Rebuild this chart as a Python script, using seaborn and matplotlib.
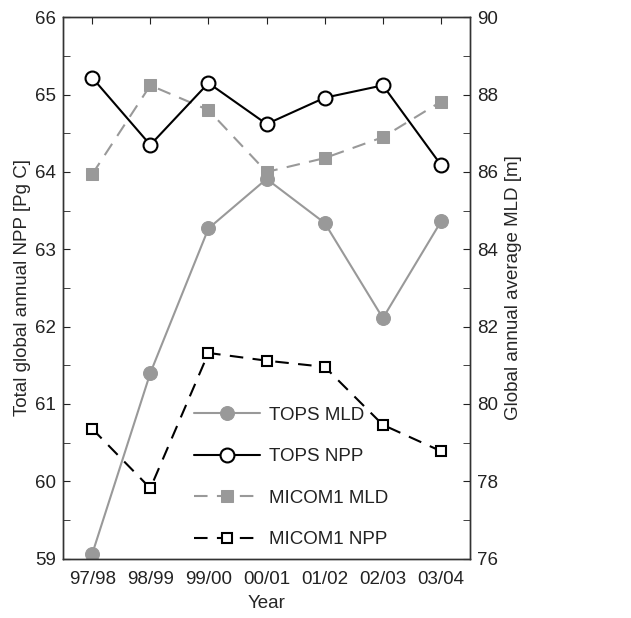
import matplotlib
matplotlib.use("Agg")
import matplotlib.pyplot as plt
import seaborn as sns
import pandas as pd
from matplotlib.ticker import MultipleLocator

years = ["97/98", "98/99", "99/00", "00/01", "01/02", "02/03", "03/04"]
tops_mld = [76.12, 80.80, 84.54, 85.82, 84.68, 82.22, 84.72]
tops_npp = [65.22, 64.35, 65.15, 64.62, 64.96, 65.12, 64.09]
micom_mld = [85.94, 88.24, 87.60, 86.00, 86.36, 86.90, 87.82]
micom_npp = [60.68, 59.91, 61.66, 61.56, 61.48, 60.73, 60.39]

sns.set_style("white")
plt.rcParams['font.family'] = ['Liberation Sans', 'DejaVu Sans']
FS = 13.5

df = pd.DataFrame({"year": years, "pos": range(len(years)),
                   "tops_mld": tops_mld, "tops_npp": tops_npp,
                   "micom_mld": micom_mld, "micom_npp": micom_npp})

fig, ax = plt.subplots(figsize=(6.31, 6.18), dpi=100)
fig.subplots_adjust(left=0.1, right=0.745, top=0.972, bottom=0.096)
ax2 = ax.twinx()

gray = "#999999"
sns.lineplot(data=df, x="pos", y="tops_mld", ax=ax2, color=gray, lw=1.5,
             marker="o", markersize=10, markeredgecolor=gray,
             markerfacecolor=gray, sort=False)
sns.lineplot(data=df, x="pos", y="micom_mld", ax=ax2, color=gray, lw=1.5,
             marker="s", markersize=8.5, markeredgecolor=gray,
             markerfacecolor=gray, sort=False)
ax2.lines[-1].set_dashes([6.5, 4.5])
sns.lineplot(data=df, x="pos", y="tops_npp", ax=ax, color="black", lw=1.5,
             marker="o", markersize=10, markeredgecolor="black",
             markerfacecolor="white", markeredgewidth=1.5, sort=False)
sns.lineplot(data=df, x="pos", y="micom_npp", ax=ax, color="black", lw=1.5,
             marker="s", markersize=7.5, markeredgecolor="black",
             markerfacecolor="white", markeredgewidth=1.5, sort=False)
ax.lines[-1].set_dashes([6.5, 4.5])

ax.set_zorder(ax2.get_zorder() + 1)
ax.patch.set_visible(False)

ax.set_xlim(-0.5, 6.5)
ax.set_ylim(59, 66)
ax2.set_ylim(76, 90)
ax.set_xticks(range(len(years)))
ax.set_xticklabels(years)
ax.yaxis.set_major_locator(MultipleLocator(1))
ax.yaxis.set_minor_locator(MultipleLocator(0.5))
ax2.yaxis.set_major_locator(MultipleLocator(2))
ax2.yaxis.set_minor_locator(MultipleLocator(1))

ax.set_xlabel("Year", fontsize=FS, labelpad=5)
ax.set_ylabel("Total global annual NPP [Pg C]", fontsize=FS, labelpad=3)
ax2.set_ylabel("Global annual average MLD [m]", fontsize=FS, labelpad=5)

for a in (ax, ax2):
    for s in a.spines.values():
        s.set_color("#333333")
        s.set_linewidth(1.0)
ax.tick_params(axis="both", which="both", direction="in", length=5,
               labelsize=FS, colors="#222222", top=True, right=False, pad=5)
ax.tick_params(axis="x", which="both", pad=9)
ax.tick_params(axis="y", which="both", left=True)
ax2.tick_params(axis="y", which="both", direction="in", length=5,
                labelsize=FS, colors="#222222", right=True, pad=5)

h = [ax2.lines[0], ax.lines[0], ax2.lines[1], ax.lines[1]]
labels = ["TOPS MLD", "TOPS NPP", "MICOM1 MLD", "MICOM1 NPP"]
ax.legend(h, labels, loc="lower left", bbox_to_anchor=(0.28, -0.012),
          frameon=False, fontsize=FS, handlelength=3.5, labelspacing=1.3,
          handletextpad=0.5, labelcolor="#222222")

fig.savefig("out.png", dpi=100)
